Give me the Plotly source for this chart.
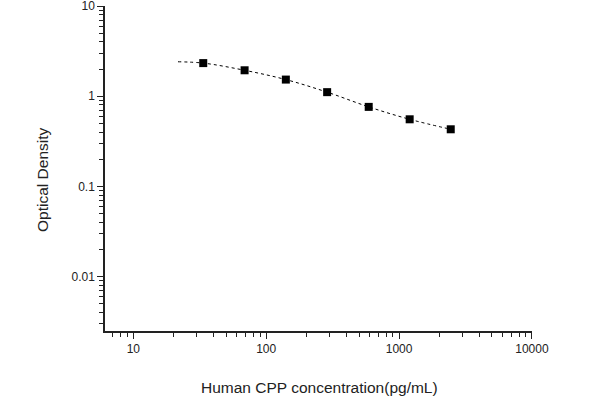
import plotly.graph_objects as go

# Standard points
conc = [33.6, 68.8, 140.6, 287.6, 591, 1202, 2449]
od = [2.33, 1.94, 1.53, 1.11, 0.762, 0.555, 0.430]

# Fitted curve points
curve_x = [21.7, 33.6, 68.8, 140.6, 287.6, 591, 1202, 2449]
curve_y = [2.41, 2.33, 1.94, 1.53, 1.11, 0.762, 0.555, 0.430]

x_ticks = [10, 100, 1000, 10000]
x_labels = ["10", "100", "1000", "10000"]
y_ticks = [0.01, 0.1, 1, 10]
y_labels = ["0.01", "0.1", "1", "10"]

x_title = "Human CPP concentration(pg/mL)"
y_title = "Optical Density"

fig = go.Figure()
fig.add_trace(go.Scatter(
    x=curve_x, y=curve_y, mode="lines",
    line=dict(color="black", width=1, dash="dot", shape="spline"),
    hoverinfo="skip", showlegend=False))
fig.add_trace(go.Scatter(
    x=conc, y=od, mode="markers",
    marker=dict(symbol="square", size=8, color="black"),
    showlegend=False))

font_family = "Liberation Sans, Arial, sans-serif"
fig.update_layout(
    width=600, height=400,
    margin=dict(l=105, r=68, t=6, b=69),
    plot_bgcolor="white", paper_bgcolor="white",
    font=dict(family=font_family, size=12, color="#222"),
)
fig.update_xaxes(
    type="log", range=[0.787, 4.0005], automargin=False,
    showline=True, linecolor="#222", linewidth=1.5,
    showgrid=False, zeroline=False,
    tickvals=x_ticks, ticktext=x_labels,
    ticks="outside", ticklen=6, tickwidth=1, tickcolor="#222",
    minor=dict(ticks="outside", ticklen=4, tickwidth=1, tickcolor="#222", dtick="D1", showgrid=False),
    tickfont=dict(size=12, color="#222"),
    ticklabeloverflow="allow",
)
fig.update_yaxes(
    type="log", range=[-2.603, 1.0005], automargin=False,
    showline=True, linecolor="#222", linewidth=1.5,
    showgrid=False, zeroline=False,
    tickvals=y_ticks, ticktext=y_labels,
    ticks="outside", ticklen=6, tickwidth=1, tickcolor="#222",
    minor=dict(ticks="outside", ticklen=4, tickwidth=1, tickcolor="#222", dtick="D1", showgrid=False),
    tickfont=dict(size=12, color="#222"),
    ticklabeloverflow="allow",
)
fig.add_annotation(text=x_title, xref="paper", yref="paper", x=0.5035, y=-0.175,
                   xanchor="center", yanchor="middle", showarrow=False,
                   font=dict(size=15.5, color="#222"))
fig.add_annotation(text=y_title, xref="paper", yref="paper", x=-0.145, y=0.465,
                   xanchor="center", yanchor="middle", showarrow=False, textangle=-90,
                   font=dict(size=15.5, color="#222"))

fig.write_html("out.html", config={"displayModeBar": False},
               post_script="document.body.style.margin='0';")
